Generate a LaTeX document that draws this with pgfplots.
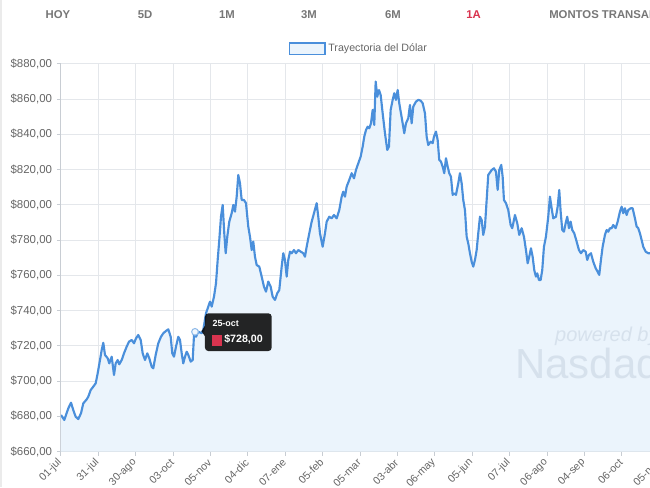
\documentclass[border=0pt]{standalone}
\usepackage{pgfplots}
\pgfplotsset{compat=1.18}
\usepackage{pgfplotstable}
\usepackage{fontspec}
\setmainfont{Liberation Sans}
\definecolor{linec}{HTML}{4A8FDB}
\definecolor{fillc}{HTML}{EBF4FC}
\definecolor{gridc}{HTML}{E4E7EB}
\definecolor{txtc}{HTML}{666666}
\definecolor{hdrc}{HTML}{777777}
\definecolor{redc}{HTML}{D9344F}
\definecolor{axc}{HTML}{C8CDD3}
\definecolor{wmc}{HTML}{D3DEEA}

\pgfplotstableread{
x y
0 680.8
3.3 678.0
7.3 684.6
10 687.8
12.3 683.6
14.7 679.8
17.3 678.5
20 681.8
22.3 687.4
25.7 689.7
27.3 691.2
29.7 695.0
32.3 696.9
34.7 698.8
36.7 704.5
39 712.0
40.7 717.7
42.3 721.8
44 714.9
46.7 713.0
48.3 710.1
50.7 713.9
53 703.5
54.7 710.1
56.7 712.0
58.3 709.6
60.7 712.0
63 715.8
65.7 719.6
68 722.4
70.7 723.4
73 721.5
75 724.3
77.3 726.2
79.7 723.4
81.7 715.8
84 712.0
86.3 715.8
88.3 713.0
90.7 708.2
92.3 707.3
94.7 714.9
97.3 721.5
100 725.2
102.3 727.2
105 728.5
107.3 729.4
109.7 725.2
111.3 715.8
113 713.9
115 719.6
117.3 725.2
119 723.4
120.7 715.8
122.3 710.1
124 713.9
125.7 716.7
127.3 714.9
129.7 711.1
131.7 712.0
133.3 729.0
135 725.2
137.3 728.1
140.7 727.2
142.3 729.0
145 738.5
147.3 742.3
149 745.1
150.7 742.3
153 747.9
155 755.5
156.7 768.8
158.3 780.1
160 793.3
161.7 800.0
163.3 783.9
164.7 772.6
166.3 782.0
168.3 790.5
170.7 795.3
172.3 800.0
174 796.2
175.7 804.7
177.3 817.0
179 812.3
180.7 802.8
183 802.8
185 801.0
187.3 787.7
189 782.0
190.7 774.4
192.3 779.2
194 770.6
195.7 765.9
198.3 765.0
200.7 759.3
203 753.6
205 750.8
207.3 756.5
209.7 753.6
211.7 747.9
214 746.1
216.3 749.9
218.3 751.7
220.7 765.0
222.3 772.6
224 768.8
225.7 759.3
227.3 768.8
229 773.5
230.7 772.6
233 774.4
235 772.6
237.3 774.4
239.7 773.5
242.3 772.6
244 770.6
245.7 776.3
248.3 783.9
250.7 790.5
253 795.3
255.7 801.0
257.3 793.3
259 783.9
261.7 776.3
264 783.9
265.7 790.5
268.3 793.3
270.7 792.4
273 794.3
275.7 792.4
278.3 797.1
280.7 804.7
282.3 807.5
284 804.7
285.7 810.4
288.3 814.2
290.7 818.0
293 815.1
295 819.8
297.3 823.6
299.7 827.4
301.7 833.1
303.3 838.7
305 842.5
306.7 844.4
308.3 843.5
310 846.3
311.7 853.9
313.3 845.4
314.7 870.0
316.3 861.4
318 865.2
319.7 862.4
321.7 852.0
324 840.7
326.3 831.2
328 833.1
329.7 853.9
331.7 859.6
333.3 863.4
335 859.6
336.7 865.2
338.3 857.7
340 852.0
341.7 846.3
343.3 840.7
345 846.3
347.3 849.2
349 856.7
350.7 846.3
352.3 855.8
355 858.6
357.3 859.6
359.7 859.2
361.7 857.7
364 852.0
365.7 838.7
367.3 834.0
369.7 835.9
371.7 835.0
373 838.7
375 841.6
376.7 836.9
378.3 825.5
380 824.6
381.7 821.7
383.3 818.0
385 826.5
386.7 821.7
388.3 818.0
390 816.0
391.7 805.7
393.3 806.6
395 805.7
397.3 812.3
399 818.0
400.7 812.3
402.3 802.8
404 797.1
405.7 782.0
407.3 778.2
409 772.6
410.7 767.8
412.3 765.0
414 768.8
415.7 774.4
417.3 783.9
419 793.3
420.7 791.5
422.3 783.0
424 787.7
425.7 802.8
427.3 817.0
430.7 819.8
433 820.8
435 818.9
436.7 808.5
438.3 819.8
440.3 822.7
441.7 816.0
443 802.8
445 801.0
447.3 797.1
449.7 788.6
451.3 786.8
454 794.3
456.3 789.6
458.3 783.0
460.7 786.8
463 782.0
465 774.4
466.7 766.9
468.3 770.6
470 775.4
471.7 770.6
473.3 763.1
475 759.3
476.3 761.2
478 757.4
479.7 757.4
481.3 763.1
483 776.3
485 782.0
487.3 793.3
489 804.7
490.7 798.1
492.3 792.4
495 793.3
496.7 799.0
498.3 808.5
499.7 796.2
501.3 785.8
503 784.8
504.7 789.6
506.3 793.3
508 786.8
509.7 790.5
511.3 785.8
513.3 783.9
515.7 779.2
518 774.4
520 772.6
522.3 774.4
524.7 773.5
526.3 768.8
528 771.6
530 772.6
532.3 767.8
534.7 764.1
536.7 762.1
538.3 760.3
540 768.8
541.7 776.3
544 783.0
545.7 785.8
547.3 784.8
549 786.8
550.7 786.8
552.3 788.6
554.7 786.8
556.7 790.5
559 796.2
560.7 799.0
562.3 795.3
564 798.1
565.7 794.3
567.3 797.1
569.7 798.1
571.7 798.1
574 792.4
575.7 787.7
577.3 786.8
579 783.9
580.7 780.1
582.3 776.3
584.7 773.5
587.3 772.6
589 772.6
600 772.8
613.4 772.4
}\dolar

\begin{document}
\begin{tikzpicture}
\useasboundingbox (0,0) rectangle (487.5pt,365.25pt);
\clip (0,0) rectangle (487.5pt,365.25pt);
\fill[white] (0,0) rectangle (487.5pt,365.25pt);
\begin{scope}[x=0.75pt,y=0.75pt]
\draw[black!8, line width=1.5pt] (1,0) -- (1,487);
\tikzset{hdr/.style={font=\bfseries\fontsize{8.5}{10}\selectfont, text=hdrc, inner sep=0pt}}
\node[hdr] at (58,472) {HOY};
\node[hdr] at (145,472) {5D};
\node[hdr] at (227,472) {1M};
\node[hdr] at (309,472) {3M};
\node[hdr] at (393,472) {6M};
\node[hdr, text=redc] at (473.5,472) {1A};
\node[hdr, anchor=west] at (549,472) {MONTOS TRANSADOS};
\end{scope}
\begin{axis}[
  at={(45.75pt,26.5pt)}, anchor=south west,
  scale only axis, width=460pt, height=290.8pt,
  xmin=0, xmax=613.4, ymin=660, ymax=880,
  axis x line*=bottom, axis y line*=left,
  axis line style={axc, line width=0.75pt, -},
  grid=major, major grid style={gridc, line width=0.75pt},
  tick align=outside, major tick length=3pt,
  tick style={axc, line width=0.75pt},
  xtick={0,37.4,74.8,112.2,149.6,187,224.4,261.8,299.2,336.6,374,411.4,448.8,486.2,523.6,561,598.4},
  xticklabels={01-jul,31-jul,30-ago,03-oct,05-nov,04-dic,07-ene,05-feb,05-mar,03-abr,06-may,05-jun,07-jul,06-ago,04-sep,06-oct,05-nov},
  ytick={660,680,700,720,740,760,780,800,820,840,860,880},
  yticklabels={\$660{,}00,\$680{,}00,\$700{,}00,\$720{,}00,\$740{,}00,\$760{,}00,\$780{,}00,\$800{,}00,\$820{,}00,\$840{,}00,\$860{,}00,\$880{,}00},
  ticklabel style={font=\fontsize{8}{9.6}\selectfont, text=txtc},
  xticklabel style={rotate=45, anchor=east, inner sep=1pt},
  xticklabel shift=3pt,
  yticklabel style={inner sep=1pt, font=\fontsize{8.6}{10}\selectfont},
  yticklabel shift=2.5pt,
  legend style={at={(0.486,1.0387)}, anchor=center, draw=none, fill=none,
    font=\fontsize{8}{9.6}\selectfont, text=txtc, inner sep=0pt},
  legend image code/.code={\draw[linec, line width=1.4pt, fill=fillc] (0pt,-4.2pt) rectangle (26.5pt,4.2pt);},
  clip=true,
]
\addplot[draw=none, fill=fillc] table[x=x,y=y] {\dolar} \closedcycle;
\addlegendentry{Trayectoria del Dólar}
\node[anchor=west, inner sep=0pt, text=wmc, opacity=0.85, font=\itshape\fontsize{15}{18}\selectfont] at (axis cs:494,725.5) {powered by};
\node[anchor=west, inner sep=0pt, text=wmc, opacity=0.85, font=\fontsize{31.5}{36}\selectfont] at (axis cs:454,707.5) {Nasdaq};
\addplot[draw=linec, line width=1.6pt, line join=round, forget plot] table[x=x,y=y] {\dolar};
\addplot[only marks, mark=*, mark size=2.5pt, mark options={fill=fillc!70!white, draw=linec!60!white, line width=0.8pt}, forget plot] coordinates {(134,728)};
\fill[black, opacity=0.85, rounded corners=2.5pt] (axis cs:144,738.5) rectangle (axis cs:210.7,717.1);
\fill[black, opacity=0.85] (axis cs:144,731.5) -- (axis cs:140.5,728.3) -- (axis cs:144,725.5) -- cycle;
\node[anchor=west, inner sep=0pt, text=white, font=\bfseries\fontsize{6.7}{8}\selectfont] at (axis cs:151.3,732.9) {25-oct};
\fill[redc] (axis cs:151.3,726.2) rectangle (axis cs:161.3,720.1);
\node[anchor=west, inner sep=0pt, text=white, font=\bfseries\fontsize{8}{9.6}\selectfont] at (axis cs:163,723.6) {\$728,00};
\end{axis}
\end{tikzpicture}
\end{document}
